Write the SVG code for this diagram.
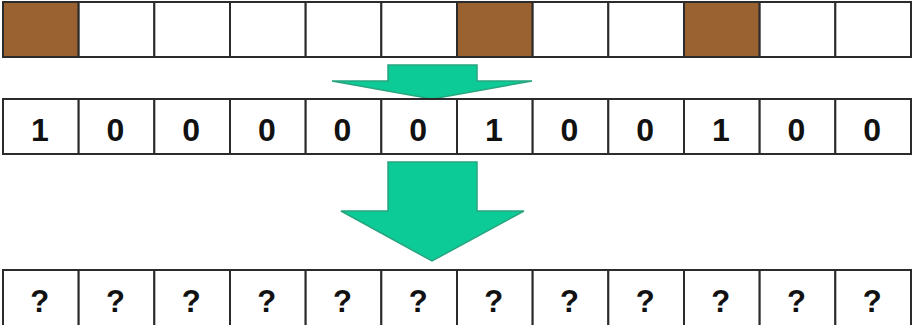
<svg xmlns="http://www.w3.org/2000/svg" width="912" height="325" viewBox="0 0 912 325">
<style>
.c{fill:#fff;stroke:#2b2b2b;stroke-width:2}
.b{fill:#9a6231;stroke:#2b2b2b;stroke-width:2}
.t{font-family:"Liberation Sans",Arial,sans-serif;font-weight:bold;font-size:32px;fill:#111;text-anchor:middle}
.q{font-size:31px}
.a{fill:#0dcb97;stroke:#27a57f;stroke-width:1.5}
</style>
<rect width="912" height="325" fill="#fff"/>
<g id="row1">
<rect class="b" x="3" y="2" width="75.67" height="55"/>
<rect class="c" x="78.67" y="2" width="75.67" height="55"/>
<rect class="c" x="154.33" y="2" width="75.67" height="55"/>
<rect class="c" x="230" y="2" width="75.67" height="55"/>
<rect class="c" x="305.67" y="2" width="75.67" height="55"/>
<rect class="c" x="381.33" y="2" width="75.67" height="55"/>
<rect class="b" x="457" y="2" width="75.67" height="55"/>
<rect class="c" x="532.67" y="2" width="75.67" height="55"/>
<rect class="c" x="608.33" y="2" width="75.67" height="55"/>
<rect class="b" x="684" y="2" width="75.67" height="55"/>
<rect class="c" x="759.67" y="2" width="75.67" height="55"/>
<rect class="c" x="835.33" y="2" width="75.67" height="55"/>
</g>
<g id="connectors">
<polygon class="a" points="388,65 477,65 477,81 532,81 432,99 332,81 388,81"/>
<polygon class="a" points="388,162 477,162 477,211 524,211 432,261 341,211 388,211"/>
</g>
<g id="row2">
<rect class="c" x="3" y="99" width="75.67" height="55"/>
<rect class="c" x="78.67" y="99" width="75.67" height="55"/>
<rect class="c" x="154.33" y="99" width="75.67" height="55"/>
<rect class="c" x="230" y="99" width="75.67" height="55"/>
<rect class="c" x="305.67" y="99" width="75.67" height="55"/>
<rect class="c" x="381.33" y="99" width="75.67" height="55"/>
<rect class="c" x="457" y="99" width="75.67" height="55"/>
<rect class="c" x="532.67" y="99" width="75.67" height="55"/>
<rect class="c" x="608.33" y="99" width="75.67" height="55"/>
<rect class="c" x="684" y="99" width="75.67" height="55"/>
<rect class="c" x="759.67" y="99" width="75.67" height="55"/>
<rect class="c" x="835.33" y="99" width="75.67" height="55"/>
<text class="t" x="39.8" y="141">1</text>
<text class="t" x="115.5" y="141">0</text>
<text class="t" x="191.2" y="141">0</text>
<text class="t" x="266.8" y="141">0</text>
<text class="t" x="342.5" y="141">0</text>
<text class="t" x="418.2" y="141">0</text>
<text class="t" x="493.8" y="141">1</text>
<text class="t" x="569.5" y="141">0</text>
<text class="t" x="645.2" y="141">0</text>
<text class="t" x="720.8" y="141">1</text>
<text class="t" x="796.5" y="141">0</text>
<text class="t" x="872.2" y="141">0</text>
</g>
<g id="row3">
<rect class="c" x="3" y="270" width="75.67" height="60"/>
<rect class="c" x="78.67" y="270" width="75.67" height="60"/>
<rect class="c" x="154.33" y="270" width="75.67" height="60"/>
<rect class="c" x="230" y="270" width="75.67" height="60"/>
<rect class="c" x="305.67" y="270" width="75.67" height="60"/>
<rect class="c" x="381.33" y="270" width="75.67" height="60"/>
<rect class="c" x="457" y="270" width="75.67" height="60"/>
<rect class="c" x="532.67" y="270" width="75.67" height="60"/>
<rect class="c" x="608.33" y="270" width="75.67" height="60"/>
<rect class="c" x="684" y="270" width="75.67" height="60"/>
<rect class="c" x="759.67" y="270" width="75.67" height="60"/>
<rect class="c" x="835.33" y="270" width="75.67" height="60"/>
<text class="t q" x="39.8" y="312">?</text>
<text class="t q" x="115.5" y="312">?</text>
<text class="t q" x="191.2" y="312">?</text>
<text class="t q" x="266.8" y="312">?</text>
<text class="t q" x="342.5" y="312">?</text>
<text class="t q" x="418.2" y="312">?</text>
<text class="t q" x="493.8" y="312">?</text>
<text class="t q" x="569.5" y="312">?</text>
<text class="t q" x="645.2" y="312">?</text>
<text class="t q" x="720.8" y="312">?</text>
<text class="t q" x="796.5" y="312">?</text>
<text class="t q" x="872.2" y="312">?</text>
</g>
</svg>
